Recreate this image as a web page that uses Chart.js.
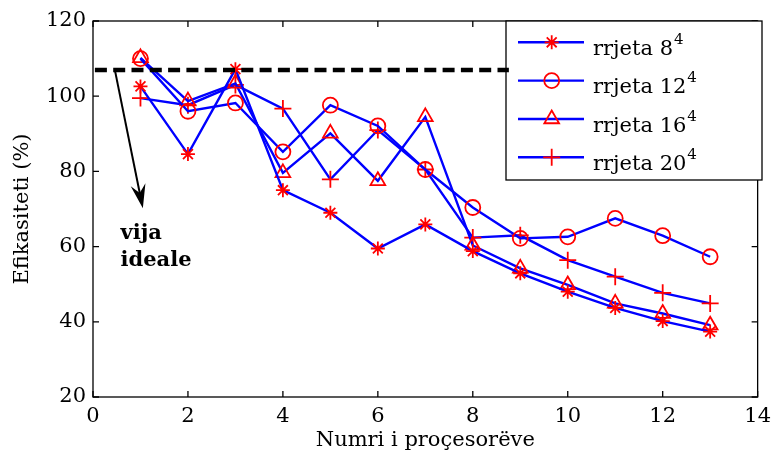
<!DOCTYPE html>
<html>
<head>
<meta charset="utf-8">
<script src="https://cdn.jsdelivr.net/npm/chart.js@4"></script>
<style>
html,body{margin:0;padding:0;background:#fff;}
canvas{display:block;}
</style>
</head>
<body>
<canvas id="c" width="778" height="455"></canvas>
<script>
// ---- data ----
const procs = [1, 2, 3, 4, 5, 6, 7, 8, 9, 10, 11, 12, 13];
const eff8  = [102.6, 84.6, 107.2, 75.0, 69.0, 59.5, 65.9, 58.8, 52.9, 48.0, 43.7, 40.2, 37.4];
const eff12 = [110.0, 96.0, 98.2, 85.2, 97.6, 92.1, 80.5, 70.4, 62.2, 62.6, 67.5, 62.9, 57.3];
const eff16 = [110.2, 98.7, 103.4, 79.6, 90.1, 77.5, 94.5, 60.3, 54.2, 49.8, 44.9, 42.2, 39.1];
const eff20 = [99.5, 97.6, 103.0, 96.7, 77.9, 91.0, 80.5, 62.4, 63.0, 56.4, 52.0, 47.7, 44.9];
const idealX = [0.04, 8.76];
const idealY = [107.0, 107.0];
const seriesNames = ['rrjeta 8', 'rrjeta 12', 'rrjeta 16', 'rrjeta 20'];
const seriesSup = ['4', '4', '4', '4'];
const xTicks = [0, 2, 4, 6, 8, 10, 12, 14];
const yTicks = [20, 40, 60, 80, 100, 120];
const arrowFrom = [0.46, 107.0];
const arrowTo = [1.05, 70.2];
const noteText = ['vija', 'ideale'];
const notePos = [[0.58, 62.0], [0.58, 54.9]];

const pts = (xs, ys) => xs.map((x, i) => ({x: x, y: ys[i]}));
const styles = ['star', 'circle', 'triangle', 'cross'];
const radii = [7, 7.5, 8.5, 8.5];
const serifFont = '"DejaVu Serif", serif';

function series(i, vals) {
  return {
    label: seriesNames[i],
    data: pts(procs, vals),
    borderColor: '#0000ff',
    borderWidth: 2.4,
    pointStyle: styles[i],
    pointRadius: radii[i],
    pointHoverRadius: radii[i],
    pointBorderColor: '#ff0000',
    pointBackgroundColor: 'rgba(0,0,0,0)',
    pointBorderWidth: 1.8,
    tension: 0,
    fill: false
  };
}

const framePlugin = {
  id: 'frame',
  beforeDatasetsDraw(chart) {
    const {ctx, chartArea: a, scales: {x, y}} = chart;
    ctx.save();
    ctx.strokeStyle = '#000';
    ctx.lineWidth = 1.3;
    ctx.strokeRect(a.left, a.top, a.right - a.left, a.bottom - a.top);
    const tl = 6;
    ctx.beginPath();
    xTicks.forEach(v => {
      const px = x.getPixelForValue(v);
      ctx.moveTo(px, a.bottom); ctx.lineTo(px, a.bottom - tl);
      ctx.moveTo(px, a.top); ctx.lineTo(px, a.top + tl);
    });
    yTicks.forEach(v => {
      const py = y.getPixelForValue(v);
      ctx.moveTo(a.left, py); ctx.lineTo(a.left + tl, py);
      ctx.moveTo(a.right, py); ctx.lineTo(a.right - tl, py);
    });
    ctx.stroke();

    // legend box
    const lx = 506, ly = a.top, lw = 256, lh = 159;
    ctx.fillStyle = '#fff';
    ctx.fillRect(lx, ly, lw, lh);
    ctx.lineWidth = 1.3;
    ctx.strokeRect(lx, ly, lw, lh);
    const rows = [42.3, 80.6, 119, 157.3];
    rows.forEach((ry, i) => {
      ctx.strokeStyle = '#0000ff';
      ctx.lineWidth = 2.4;
      ctx.beginPath();
      ctx.moveTo(518, ry); ctx.lineTo(584, ry);
      ctx.stroke();
      ctx.strokeStyle = '#ff0000';
      ctx.fillStyle = 'rgba(0,0,0,0)';
      ctx.lineWidth = 1.8;
      Chart.helpers.drawPoint(ctx, {pointStyle: styles[i], radius: radii[i], borderWidth: 1.8, rotation: 0}, 551.7, ry);
      ctx.fillStyle = '#000';
      ctx.textBaseline = 'alphabetic';
      ctx.textAlign = 'left';
      ctx.font = '21px ' + serifFont;
      ctx.fillText(seriesNames[i], 593, ry + 12.5);
      const w = ctx.measureText(seriesNames[i]).width;
      ctx.font = '15px ' + serifFont;
      ctx.fillText(seriesSup[i], 593 + w + 1, ry + 1.5);
    });
    ctx.restore();
  },
  afterDatasetsDraw(chart) {
    const {ctx, scales: {x, y}} = chart;
    ctx.save();
    const x0 = x.getPixelForValue(arrowFrom[0]), y0 = y.getPixelForValue(arrowFrom[1]);
    const x1 = x.getPixelForValue(arrowTo[0]), y1 = y.getPixelForValue(arrowTo[1]);
    const ang = Math.atan2(y1 - y0, x1 - x0);
    const hl = 24, hw = 7.5;
    const bx = x1 - hl * Math.cos(ang), by = y1 - hl * Math.sin(ang);
    const nx = -Math.sin(ang), ny = Math.cos(ang);
    ctx.strokeStyle = '#000';
    ctx.lineWidth = 2;
    ctx.beginPath();
    ctx.moveTo(x0, y0);
    ctx.lineTo(x1 - 10 * Math.cos(ang), y1 - 10 * Math.sin(ang));
    ctx.stroke();
    const mx = x1 - (hl * 0.65) * Math.cos(ang), my = y1 - (hl * 0.65) * Math.sin(ang);
    ctx.fillStyle = '#000';
    ctx.beginPath();
    ctx.moveTo(x1, y1);
    ctx.lineTo(bx + nx * hw, by + ny * hw);
    ctx.lineTo(mx, my);
    ctx.lineTo(bx - nx * hw, by - ny * hw);
    ctx.closePath();
    ctx.fill();

    ctx.font = 'bold 21px ' + serifFont;
    ctx.textAlign = 'left';
    ctx.textBaseline = 'alphabetic';
    noteText.forEach((t, i) => {
      ctx.fillText(t, x.getPixelForValue(notePos[i][0]), y.getPixelForValue(notePos[i][1]));
    });
    ctx.restore();
  }
};

const datasets = [
  {
    label: 'ideal',
    data: pts(idealX, idealY),
    borderColor: '#000',
    borderWidth: 4.5,
    borderDash: [12, 6.3],
    pointRadius: 0,
    pointHoverRadius: 0,
    fill: false,
    tension: 0
  },
  series(0, eff8),
  series(1, eff12),
  series(2, eff16),
  series(3, eff20)
];

new Chart(document.getElementById('c'), {
  type: 'line',
  data: {datasets: datasets},
  options: {
    responsive: false,
    animation: false,
    events: [],
    layout: {padding: {top: 21, right: 13, left: 0, bottom: 0}},
    plugins: {legend: {display: false}, tooltip: {enabled: false}},
    scales: {
      x: {
        type: 'linear',
        min: 0, max: 14,
        afterFit(s) { s.height = 58; },
        afterBuildTicks(s) { s.ticks = xTicks.map(v => ({value: v})); },
        grid: {display: false, drawTicks: false},
        border: {display: false},
        ticks: {color: '#000', padding: 7, font: {family: serifFont, size: 21}, maxRotation: 0, autoSkip: false},
        title: {display: true, text: 'Numri i proçesorëve', color: '#000', font: {family: serifFont, size: 21, lineHeight: 1.2}, padding: {top: 0, bottom: 2}}
      },
      y: {
        type: 'linear',
        min: 20, max: 120,
        afterFit(s) { s.width = 93; },
        afterBuildTicks(s) { s.ticks = yTicks.map(v => ({value: v})); },
        grid: {display: false, drawTicks: false},
        border: {display: false},
        ticks: {color: '#000', padding: 7, font: {family: serifFont, size: 21}, autoSkip: false},
        title: {display: true, text: 'Efikasiteti (%)', color: '#000', font: {family: serifFont, size: 21, lineHeight: 1.2}, padding: {top: 10, bottom: 0}}
      }
    }
  },
  plugins: [framePlugin]
});
</script>
</body>
</html>
